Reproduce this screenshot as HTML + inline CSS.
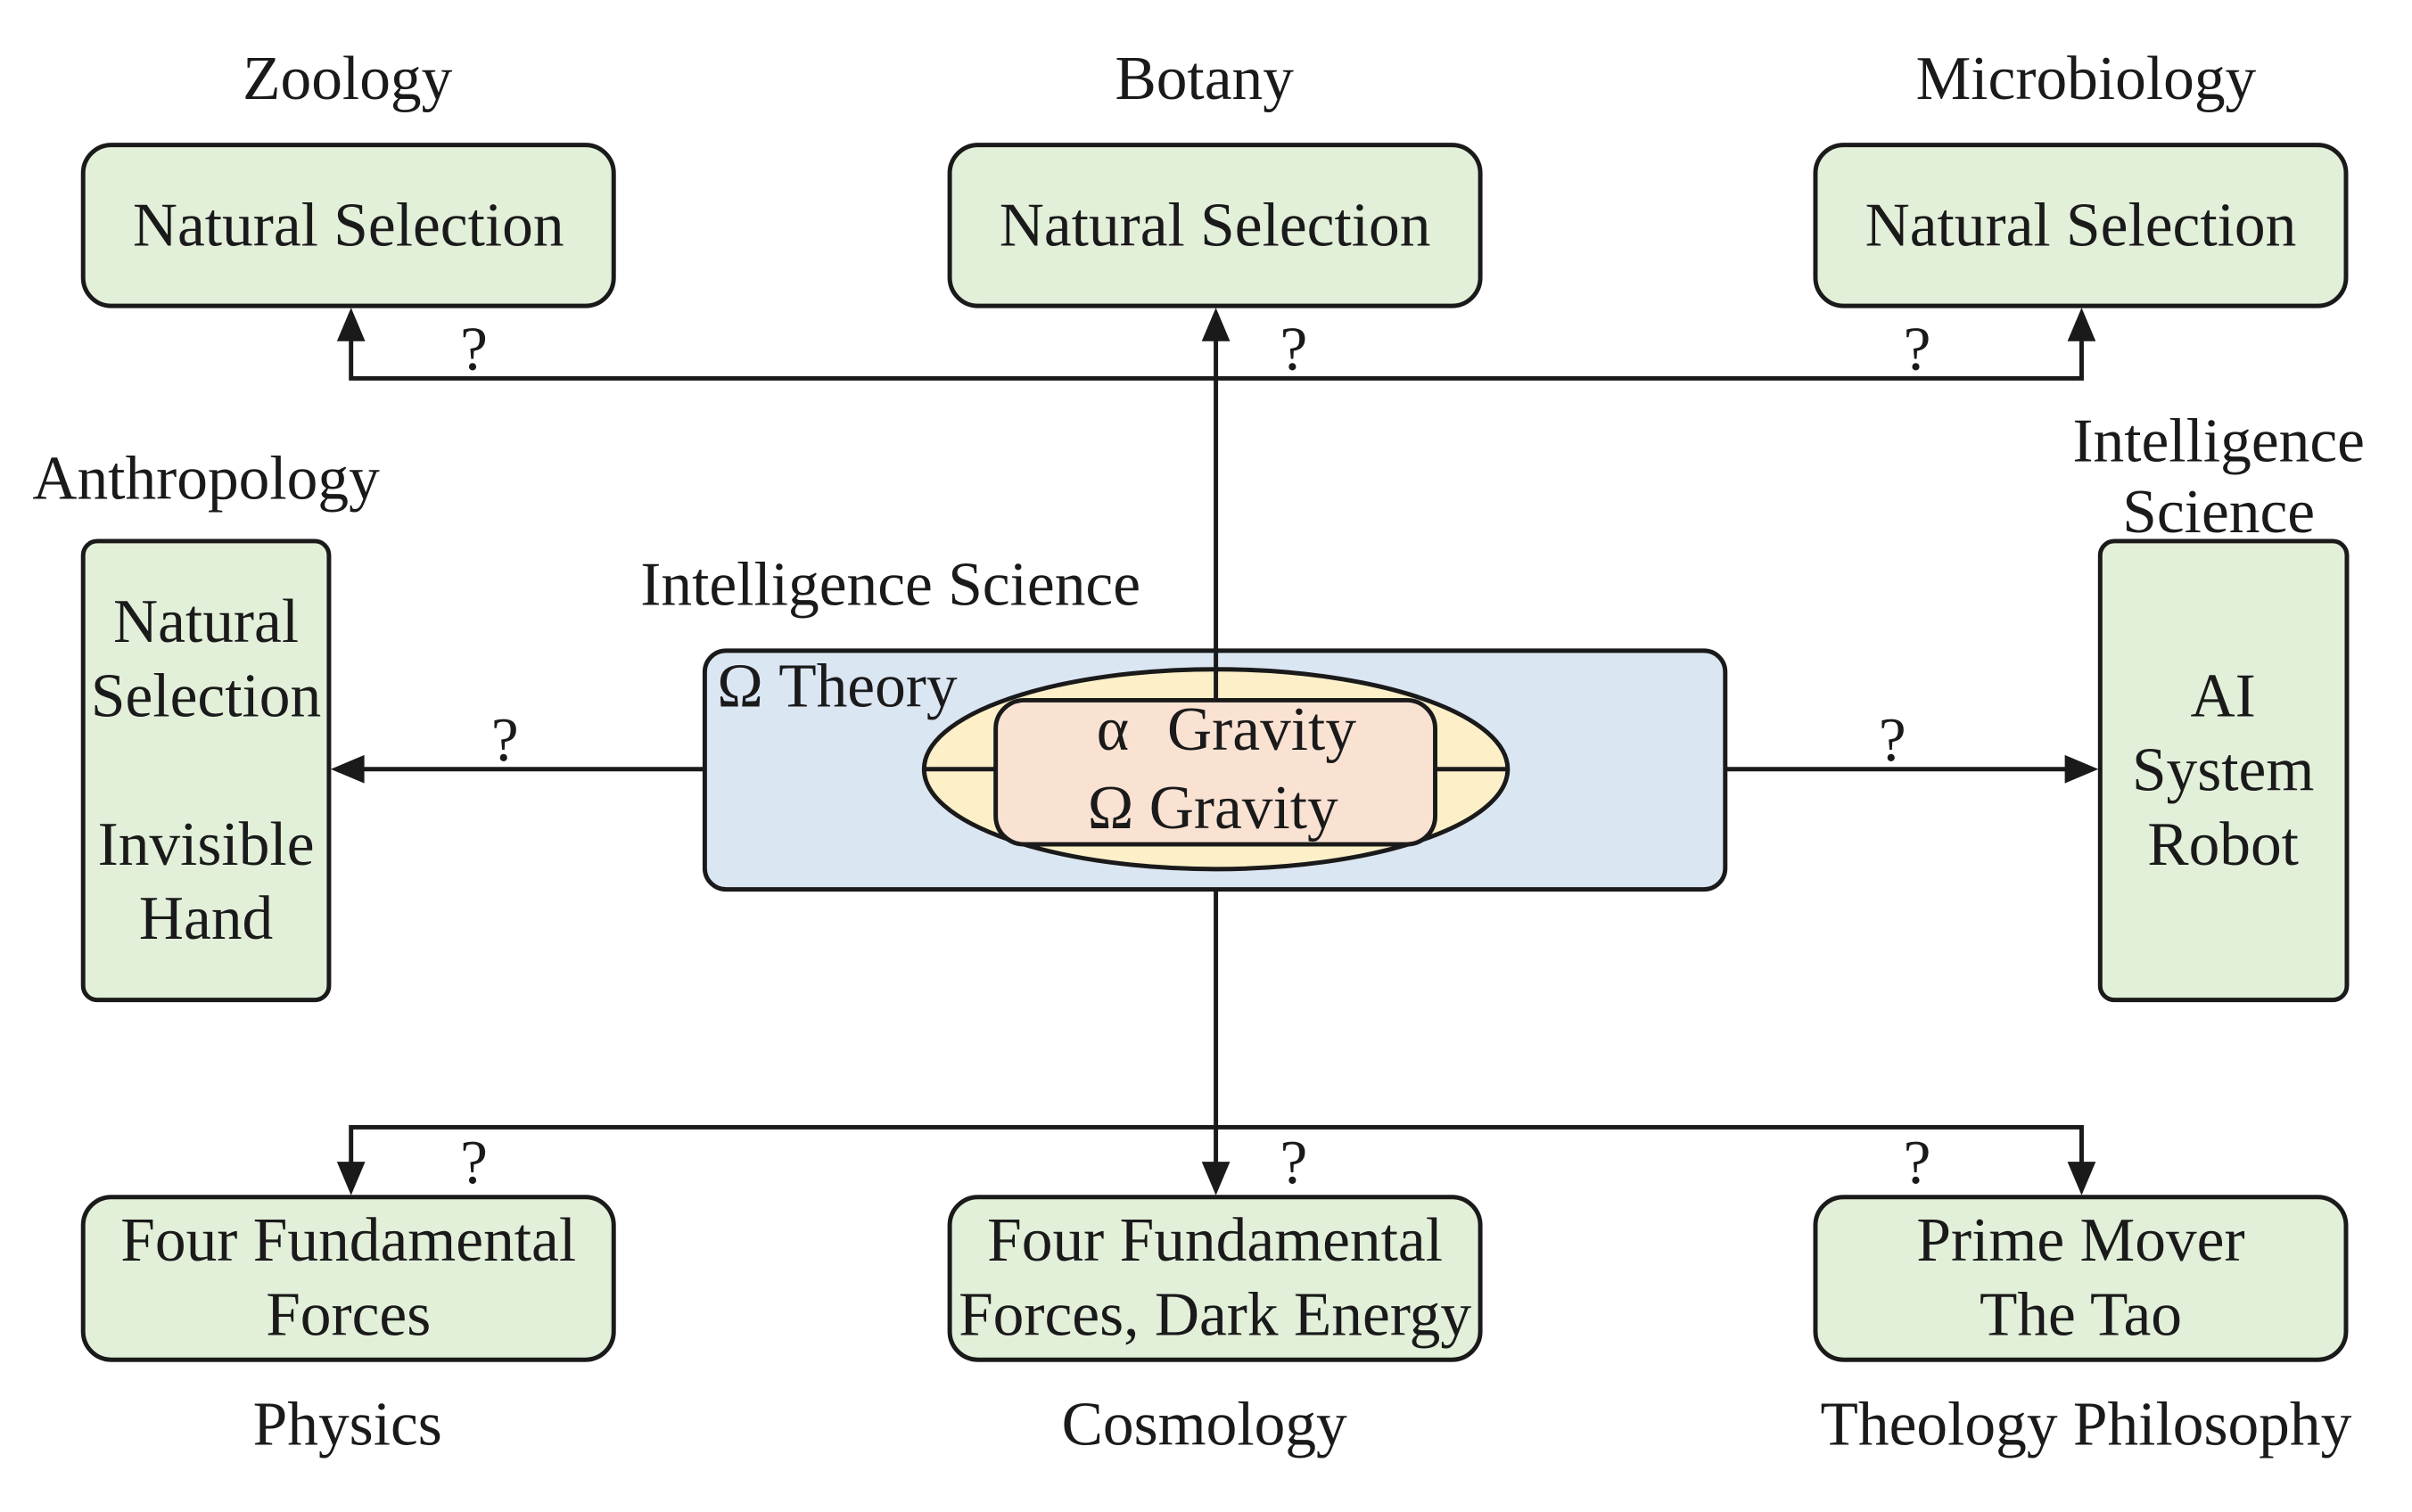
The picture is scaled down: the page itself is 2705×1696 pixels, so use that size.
<!DOCTYPE html>
<html><head><meta charset="utf-8"><style>
html,body{margin:0;padding:0;background:#fff}
svg{display:block}
text{font-family:"Liberation Serif",serif;fill:#1a1a1a}
</style></head><body>
<svg width="2705" height="1696" viewBox="0 0 2705 1696" xmlns="http://www.w3.org/2000/svg">
<g transform="scale(0.9917)">
<g stroke="#1a1a1a" stroke-width="5" fill="none">
<polyline points="397,380 397,428 2354,428 2354,380"/>
<line x1="1375" y1="380" x2="1375" y2="792"/>
<line x1="405" y1="870" x2="1126" y2="870"/>
<line x1="1623" y1="870" x2="2340" y2="870"/>
<line x1="1375" y1="1006" x2="1375" y2="1320"/>
<polyline points="397,1320 397,1275 2354,1275 2354,1320"/>
</g>
<g fill="#1a1a1a">
<polygon points="397,348 381,386 413,386"/>
<polygon points="1375,348 1359,386 1391,386"/>
<polygon points="2354,348 2338,386 2370,386"/>
<polygon points="374,870 412,854 412,886"/>
<polygon points="2373,870 2335,854 2335,886"/>
<polygon points="397,1352 381,1314 413,1314"/>
<polygon points="1375,1352 1359,1314 1391,1314"/>
<polygon points="2354,1352 2338,1314 2370,1314"/>
</g>
<rect x="797" y="736" width="1154" height="270" rx="24" fill="#dbe6f3" stroke="#1a1a1a" stroke-width="5"/>
<ellipse cx="1375" cy="870" rx="330" ry="113" fill="#fdf0c9" stroke="#1a1a1a" stroke-width="5"/>
<line x1="1045" y1="870" x2="1126" y2="870" stroke="#1a1a1a" stroke-width="5"/>
<line x1="1623" y1="870" x2="1705" y2="870" stroke="#1a1a1a" stroke-width="5"/>
<rect x="1126" y="792" width="497" height="163" rx="32" fill="#fae2d3" stroke="#1a1a1a" stroke-width="5"/>
<line x1="1375" y1="736" x2="1375" y2="792" stroke="#1a1a1a" stroke-width="5"/>
<g fill="#e2efd9" stroke="#1a1a1a" stroke-width="5">
<rect x="94" y="164" width="600" height="182" rx="32"/>
<rect x="1074" y="164" width="600" height="182" rx="32"/>
<rect x="2053" y="164" width="600" height="182" rx="32"/>
<rect x="94" y="612" width="278" height="519" rx="16"/>
<rect x="2375" y="612" width="279" height="519" rx="16"/>
<rect x="94" y="1354" width="600" height="184" rx="32"/>
<rect x="1074" y="1354" width="600" height="184" rx="32"/>
<rect x="2053" y="1354" width="600" height="184" rx="32"/>
</g>
<g font-size="70" text-anchor="middle">
<text x="393" y="112">Zoology</text>
<text x="1362" y="112">Botany</text>
<text x="2359" y="112">Microbiology</text>
<text x="394" y="278">Natural Selection</text>
<text x="1374" y="278">Natural Selection</text>
<text x="2353" y="278">Natural Selection</text>
<text x="233" y="564">Anthropology</text>
<text x="233" y="726">Natural</text>
<text x="233" y="810">Selection</text>
<text x="233" y="978">Invisible</text>
<text x="233" y="1062">Hand</text>
<text x="2509" y="522">Intelligence</text>
<text x="2509" y="602">Science</text>
<text x="2514" y="810">AI</text>
<text x="2514" y="894">System</text>
<text x="2514" y="978">Robot</text>
<text x="1007" y="684">Intelligence Science</text>
<text x="394" y="1426">Four Fundamental</text>
<text x="394" y="1510">Forces</text>
<text x="1374" y="1426">Four Fundamental</text>
<text x="1374" y="1510">Forces, Dark Energy</text>
<text x="2353" y="1426">Prime Mover</text>
<text x="2353" y="1510">The Tao</text>
<text x="393" y="1634">Physics</text>
<text x="1362" y="1634">Cosmology</text>
<text x="2359" y="1634">Theology Philosophy</text>
<text x="536" y="418">?</text>
<text x="1463" y="418">?</text>
<text x="2168" y="418">?</text>
<text x="571" y="860">?</text>
<text x="2140" y="860">?</text>
<text x="536" y="1338">?</text>
<text x="1463" y="1338">?</text>
<text x="2168" y="1338">?</text>
</g>
<g font-size="70">
<text x="811" y="799">Ω  Theory</text>
<text x="1240" y="848">α</text>
<text x="1320" y="848">Gravity</text>
<text x="1230" y="937">Ω Gravity</text>
</g>
</g>
</svg>
</body></html>
